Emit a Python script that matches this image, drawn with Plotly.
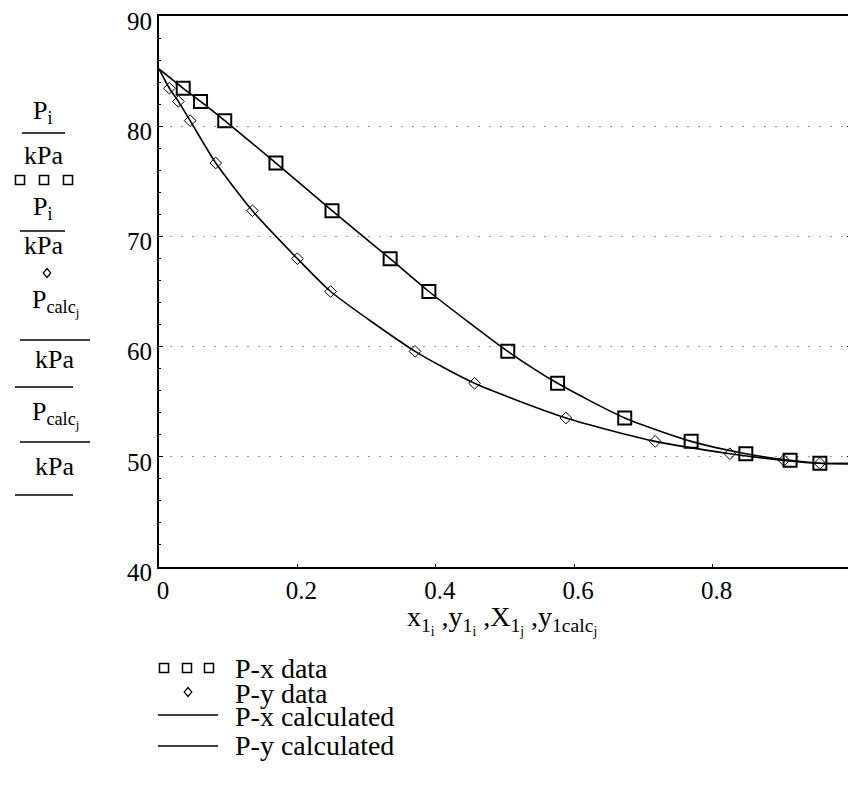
import plotly.graph_objects as go

# ---------------- data ----------------
P_data = [83.44, 82.25, 80.50, 76.66, 72.33, 67.98, 65.00, 59.57, 56.67, 53.52, 51.40, 50.28, 49.68, 49.41]
x1_data = [0.035, 0.060, 0.095, 0.169, 0.250, 0.334, 0.390, 0.504, 0.576, 0.673, 0.769, 0.848, 0.912, 0.955]
y1_data = [0.015, 0.028, 0.045, 0.082, 0.135, 0.200, 0.248, 0.370, 0.456, 0.588, 0.717, 0.825, 0.903, 0.955]

P_calc = [85.20, 83.44, 82.25, 80.50, 76.66, 72.33, 67.98, 65.00, 59.57, 56.67, 53.52, 51.40, 50.28, 49.68, 49.41, 49.38]
X1_calc = [0.000, 0.035, 0.060, 0.095, 0.169, 0.250, 0.334, 0.390, 0.504, 0.576, 0.673, 0.769, 0.848, 0.912, 0.955, 1.000]
y1_calc = [0.000, 0.015, 0.028, 0.045, 0.082, 0.135, 0.200, 0.248, 0.370, 0.456, 0.588, 0.717, 0.825, 0.903, 0.955, 1.000]

x_tick_vals = [0, 0.2, 0.4, 0.6, 0.8]
x_tick_text = ["0", "0.2", "0.4", "0.6", "0.8"]
y_tick_vals = [40, 50, 60, 70, 80, 90]
legend_labels = ["P-x data", "P-y data", "P-x calculated", "P-y calculated"]

# ---------------- layout geometry (page pixels) ----------------
OFF = 8                      # default body margin of the html page
PAGE_W, PAGE_H = 856, 796
W, H = PAGE_W - OFF, PAGE_H - OFF
L, R, T, B = 159, 851, 16, 567   # plot frame in page pixels
FONT = "Liberation Serif"


def px(xp):
    return (xp - L) / (R - L)


def py(yp):
    return (B - yp) / (B - T)


fig = go.Figure()

fig.add_trace(go.Scatter(x=X1_calc, y=P_calc, mode="lines",
                         line=dict(color="black", width=1.6, shape="spline", smoothing=0.6),
                         name=legend_labels[2], showlegend=False))
fig.add_trace(go.Scatter(x=y1_calc, y=P_calc, mode="lines",
                         line=dict(color="black", width=1.6, shape="spline", smoothing=0.6),
                         name=legend_labels[3], showlegend=False))
fig.add_trace(go.Scatter(x=x1_data, y=P_data, mode="markers",
                         marker=dict(symbol="square-open", size=13, color="black", line=dict(width=2)),
                         name=legend_labels[0], showlegend=False))
fig.add_trace(go.Scatter(x=y1_data, y=P_data, mode="markers",
                         marker=dict(symbol="diamond-open", size=9, color="black", line=dict(width=1)),
                         name=legend_labels[1], showlegend=False))

annotations = []
shapes = []


def text(xp, yp, s, size=26, xanchor="center"):
    annotations.append(dict(x=px(xp), y=py(yp), xref="paper", yref="paper", text=s,
                            showarrow=False, xanchor=xanchor, yanchor="middle",
                            font=dict(family=FONT, size=size, color="black")))


def hline(x0, x1, yp, w=1.5):
    shapes.append(dict(type="line", xref="paper", yref="paper", x0=px(x0), x1=px(x1),
                       y0=py(yp), y1=py(yp), line=dict(color="black", width=w)))


def square(xc, yc, s=8, w=1.5):
    shapes.append(dict(type="rect", xref="paper", yref="paper",
                       x0=px(xc - s / 2), x1=px(xc + s / 2), y0=py(yc - s / 2), y1=py(yc + s / 2),
                       line=dict(color="black", width=w)))


def diamond(xc, yc, s=8, w=1.2):
    h = s / 2
    path = "M {} {} L {} {} L {} {} L {} {} Z".format(
        px(xc), py(yc - h), px(xc + h * 0.85), py(yc), px(xc), py(yc + h), px(xc - h * 0.85), py(yc))
    shapes.append(dict(type="path", xref="paper", yref="paper", path=path,
                       line=dict(color="black", width=w)))


# ---- stacked y-axis label (Mathcad style) ----
text(43, 112, "P<sub>i</sub>")
hline(22, 65, 133)
text(43, 155, "kPa")
for xc in (20, 44, 68):
    square(xc, 180, 9)
text(43, 208, "P<sub>i</sub>")
hline(20, 65, 231)
text(43, 246, "kPa")
diamond(47, 273, 9)
text(55, 302, "P<sub>calc<sub>j</sub></sub>")
hline(20, 90, 340)
text(54, 360, "kPa")
hline(15, 73, 387)
text(55, 414, "P<sub>calc<sub>j</sub></sub>")
hline(20, 90, 442)
text(54, 467, "kPa")
hline(15, 73, 495)

# ---- x-axis label ----
text(502, 620, "x<sub>1<sub>i</sub></sub> ,y<sub>1<sub>i</sub></sub> ,X<sub>1<sub>j</sub></sub> ,y<sub>1calc<sub>j</sub></sub>",
     size=28)

# ---- legend ----
for xc in (164, 187, 209):
    square(xc, 668, 9)
text(233, 668, legend_labels[0], size=28, xanchor="left")
diamond(188, 692, 9)
text(233, 693, legend_labels[1], size=28, xanchor="left")
hline(158, 218, 715)
text(233, 717, legend_labels[2], size=28, xanchor="left")
hline(158, 218, 746)
text(233, 745, legend_labels[3], size=28, xanchor="left")

fig.update_layout(
    width=W, height=H,
    margin=dict(l=L - OFF, r=PAGE_W - R, t=T - OFF, b=PAGE_H - B, pad=0),
    paper_bgcolor="white", plot_bgcolor="white",
    showlegend=False,
    font=dict(family=FONT, size=25, color="black"),
    annotations=annotations, shapes=shapes,
)
fig.update_xaxes(range=[0, 1], tickvals=x_tick_vals, ticktext=x_tick_text,
                 showline=True, linecolor="black", linewidth=2, mirror=True,
                 ticks="inside", ticklen=3, tickcolor="black", showgrid=False, zeroline=False,
                 ticklabelshift=4, automargin=False,
                 tickfont=dict(family=FONT, size=25, color="black"))
fig.update_yaxes(range=[40, 90], tickvals=y_tick_vals,
                 showline=True, linecolor="black", linewidth=2, mirror="ticks",
                 ticks="inside", ticklen=4, tickcolor="black", zeroline=False,
                 showgrid=True, gridcolor="#999", gridwidth=1, griddash="2px,9px",
                 minor=dict(dtick=2, ticks="inside", ticklen=2, tickcolor="black", showgrid=False),
                 automargin=False, ticklabeloverflow="allow", ticklabelshift=5,
                 tickfont=dict(family=FONT, size=25, color="black"))

fig.write_html("out.html")
